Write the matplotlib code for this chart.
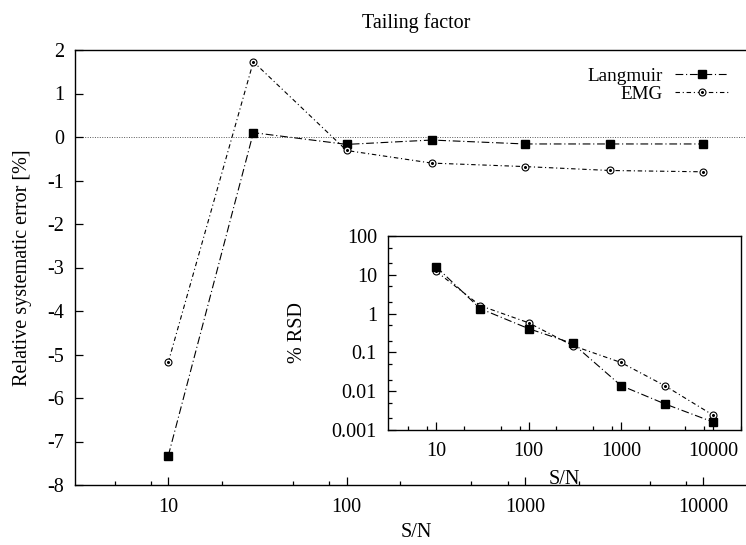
import matplotlib
matplotlib.use("Agg")
import matplotlib.pyplot as plt
from matplotlib.ticker import LogLocator, FuncFormatter, NullFormatter
from matplotlib.legend_handler import HandlerTuple

plt.rcParams['font.family'] = ['Liberation Serif', 'DejaVu Serif']
plt.rcParams['axes.unicode_minus'] = False

# S/N levels
sn = [10, 30, 100, 300, 1000, 3000, 10000]

# relative systematic error [%]
err_langmuir = [-7.33, 0.10, -0.17, -0.07, -0.16, -0.16, -0.16]
err_emg = [-5.18, 1.73, -0.31, -0.60, -0.68, -0.77, -0.80]

# % RSD
rsd_langmuir = [16.0, 1.34, 0.41, 0.17, 0.014, 0.0047, 0.0016]
rsd_emg = [12.2, 1.6, 0.58, 0.15, 0.055, 0.0138, 0.0024]

FS = 14.5
dash_l = (7, 2.5, 1, 2.5)
dash_e = (4, 2.5, 1, 2.5)

fig = plt.figure(figsize=(7.46, 5.45), dpi=100)
W, H = 746, 545
ax = fig.add_axes([75 / W, 60 / H, 682 / W, 435 / H])

plain = FuncFormatter(lambda v, p: f"{v:g}")


def style_axis(a):
    a.set_xscale('log')
    a.xaxis.set_major_locator(LogLocator(base=10, numticks=10))
    a.xaxis.set_minor_locator(LogLocator(base=10, subs=(2, 5, 8), numticks=10))
    a.xaxis.set_major_formatter(plain)
    a.xaxis.set_minor_formatter(NullFormatter())
    a.tick_params(which='both', direction='in', top=False, right=False,
                  labelsize=FS, width=0.9)
    a.tick_params(which='major', length=5.5)
    a.tick_params(which='minor', length=3)
    a.tick_params(axis='x', which='major', pad=9)
    a.tick_params(axis='y', which='major', pad=8)
    for s in a.spines.values():
        s.set_linewidth(1.0)


style_axis(ax)
ax.set_xlim(3, 20000)
ax.set_ylim(-8, 2)
ax.set_yticks(range(-8, 3))
ax.axhline(0, color='0.35', lw=0.7, ls=(0, (1, 1.5)), zorder=1)

l1, = ax.plot(sn, err_langmuir, color='black', lw=0.8, dashes=dash_l,
              marker='s', ms=5.2, mfc='black', mec='black')
l2, = ax.plot(sn, err_emg, color='black', lw=0.8, dashes=dash_e,
              marker='o', ms=5.0, mfc='white', mec='black', mew=0.8)
d2, = ax.plot(sn, err_emg, ls='none', marker='o', ms=1.2, color='black')

ax.set_title("Tailing factor", fontsize=FS, pad=16)
ax.set_xlabel("S/N", fontsize=FS, labelpad=5)
ax.set_ylabel("Relative systematic error [%]", fontsize=FS, labelpad=11)

leg = fig.legend([l1, (l2, d2)], ["Langmuir", "EMG"],
                 handler_map={tuple: HandlerTuple(ndivide=1)},
                 loc='upper right', bbox_to_anchor=(736 / W, 1 - 60 / H),
                 frameon=False, markerfirst=False, fontsize=13.8,
                 handlelength=2.8, labelspacing=0.0, handletextpad=0.6,
                 borderaxespad=0)

# inset: % RSD
ins = fig.add_axes([388 / W, 115 / H, 353 / W, 194 / H])
style_axis(ins)
ins.set_yscale('log')
ins.yaxis.set_major_locator(LogLocator(base=10, numticks=10))
ins.yaxis.set_minor_locator(LogLocator(base=10, subs=(2, 5), numticks=10))
ins.yaxis.set_major_formatter(plain)
ins.yaxis.set_minor_formatter(NullFormatter())
ins.tick_params(which='both', labelsize=FS)
ins.set_xlim(3, 20000)
ins.set_ylim(0.001, 100)

ins.plot(sn, rsd_emg, color='black', lw=0.8, dashes=dash_e,
         marker='o', ms=5.0, mfc='white', mec='black', mew=0.8)
ins.plot(sn, rsd_emg, ls='none', marker='o', ms=1.2, color='black')
ins.plot(sn, rsd_langmuir, color='black', lw=0.8, dashes=dash_l,
         marker='s', ms=5.2, mfc='black', mec='black')

ins.set_xlabel("S/N", fontsize=FS, labelpad=6)
ins.set_ylabel("% RSD", fontsize=FS, labelpad=18)

fig.savefig("out.png", dpi=100, facecolor='white')
